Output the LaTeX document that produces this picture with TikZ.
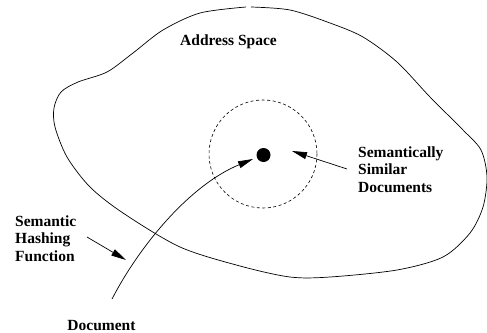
\documentclass[tikz,border=0pt]{standalone}
\usepackage{fontspec}
\setmainfont{Liberation Serif}
\usetikzlibrary{arrows.meta}
\begin{document}
\begin{tikzpicture}[x=1pt,y=-1pt,
  outline/.style={line width=0.7pt},
  pointer/.style={line width=0.7pt,-{Triangle[length=15pt,width=7pt]}},
  label/.style={inner sep=0pt,font=\fontsize{15.5}{17.5}\selectfont\bfseries,align=left}]
\useasboundingbox (0,0) rectangle (487,332);
% address space outline
\draw[outline] plot[smooth,tension=0.5] coordinates {
 (251,7) (290,10) (330,23) (363,37) (397,62) (430,97) (463,130) (481,150)
 (487,177) (483,207) (470,233) (443,257) (397,270) (330,277) (290,277)
 (240,266) (180,247) (123,213) (90,187) (67,157) (55,127) (54,108) (61,92)
 (78,82) (107,72) (133,53) (163,30) (200,13) (246,7)};
% neighbourhood
\draw[line width=0.6pt,dash pattern=on 3pt off 2.5pt] (263,154) circle[radius=54];
\node[circle,fill,inner sep=0pt,minimum size=14pt] (dot) at (263.5,155) {};
% labels
\node[label,anchor=base] (addr) at (228.5,45) {Address Space};
\node[label,anchor=north west] (sim) at (358,146.5) {Semantically\\Similar\\Documents};
\node[label,anchor=north west] (hash) at (15,215.5) {Semantic\\Hashing\\Function};
\node[label,anchor=base] (doc) at (101.5,330) {Document};
% connectors
\coordinate (docstart) at (112,299);
\coordinate (doctip) at (253,159);
\draw[pointer] (docstart) .. controls (140,245) and (190,185) .. (doctip);
\coordinate (simstart) at (347,169);
\coordinate (simtip) at (292,151);
\draw[pointer] (simstart) -- (simtip);
\coordinate (hashstart) at (87,237);
\coordinate (hashtip) at (126,260);
\draw[pointer] (hashstart) -- (hashtip);
\end{tikzpicture}
\end{document}
